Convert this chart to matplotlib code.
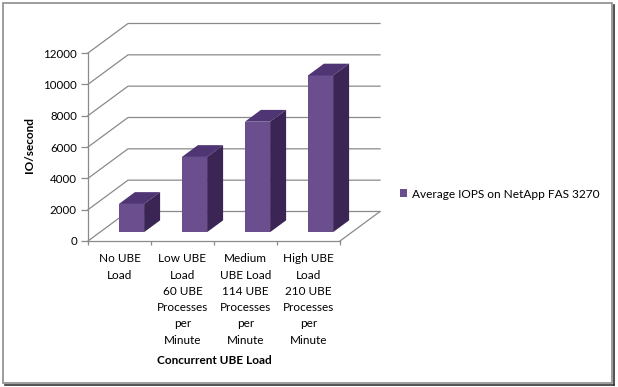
import matplotlib
matplotlib.use('Agg')
import matplotlib.pyplot as plt
from matplotlib.patches import Polygon, Rectangle
from matplotlib.lines import Line2D
import numpy as np

categories = ['No UBE\nLoad',
              'Low UBE\nLoad\n60 UBE\nProcesses\nper\nMinute',
              'Medium\nUBE Load\n114 UBE\nProcesses\nper\nMinute',
              'High UBE\nLoad\n210 UBE\nProcesses\nper\nMinute']
iops = [1800, 4800, 7050, 10000]
y_ticks = [0, 2000, 4000, 6000, 8000, 10000, 12000]
series_name = 'Average IOPS on NetApp FAS 3270'

plt.rcParams['font.family'] = ['Lato', 'DejaVu Sans']

W, H = 618, 387
fig = plt.figure(figsize=(W / 100, H / 100), dpi=100)

# front plane of the 3d box, in pixels
x0, x1, yb, yt = 88, 340, 241, 53
ax = fig.add_axes([x0 / W, 1 - yb / H, (x1 - x0) / W, (yb - yt) / H])
ax.set_xlim(-0.5, 3.5)
ax.set_ylim(0, 12000)

# depth vector (oblique projection) in data units
px_x = (x1 - x0) / 4.0
px_y = (yb - yt) / 12000.0
DX = 40 / px_x
DY = 29.5 / px_y

grid_c = '#8a8a8a'
# side wall + back wall gridlines
for v in y_ticks:
    ax.plot([-0.5, -0.5 + DX, 3.5 + DX], [v, v + DY, v + DY],
            color=grid_c, lw=0.9, clip_on=False, zorder=1)
# floor right edge
ax.plot([3.5, 3.5 + DX], [0, DY], color=grid_c, lw=0.9, clip_on=False, zorder=1)

front_c = '#6a4e8e'
top_c = '#4f3573'
side_c = '#3b2555'
bw = 0.4
d0, d1 = 0.3, 0.7
xs = np.arange(len(iops))
bars = ax.bar(xs + d0 * DX, iops, width=bw, bottom=d0 * DY, color=front_c,
              label=series_name, zorder=3)
dd = d1 - d0
for b in bars:
    xl = b.get_x()
    xr = xl + b.get_width()
    ybot = b.get_y()
    ytop = ybot + b.get_height()
    ax.add_patch(Polygon([(xl, ytop), (xr, ytop), (xr + dd * DX, ytop + dd * DY),
                          (xl + dd * DX, ytop + dd * DY)], closed=True,
                         facecolor=top_c, edgecolor='none', zorder=3, clip_on=False))
    ax.add_patch(Polygon([(xr, ybot), (xr, ytop), (xr + dd * DX, ytop + dd * DY),
                          (xr + dd * DX, ybot + dd * DY)], closed=True,
                         facecolor=side_c, edgecolor='none', zorder=3, clip_on=False))

for s in ['top', 'right']:
    ax.spines[s].set_visible(False)
for s in ['left', 'bottom']:
    ax.spines[s].set_color(grid_c)
    ax.spines[s].set_linewidth(0.9)

ax.set_yticks(y_ticks)
ax.set_yticklabels([str(v) for v in y_ticks])
ax.tick_params(axis='y', length=5, width=0.9, color=grid_c, labelsize=8.3, pad=3)

ax.set_xticks(np.arange(-0.5, 4.0, 1.0))
ax.set_xticklabels([])
ax.set_xticks(xs, minor=True)
ax.set_xticklabels(categories, minor=True, fontsize=8.5, linespacing=1.58, va='top')
ax.tick_params(axis='x', which='major', length=3, width=0.9, color=grid_c)
ax.tick_params(axis='x', which='minor', length=0, pad=9)

ax.set_ylabel('IO/second', fontsize=8.5, fontweight='bold')
ax.yaxis.set_label_coords(-0.21, 0.51)
ax.set_xlabel('Concurrent UBE Load', fontsize=8.5, fontweight='bold', va='center')
ax.xaxis.set_label_coords(0.5, -(361 - yb) / (yb - yt))

fig.legend(handles=[bars], labels=[series_name], loc='center left',
           bbox_to_anchor=(389 / W, 1 - 194 / H), frameon=False, fontsize=8.6,
           handlelength=0.6, handleheight=0.6, handletextpad=0.4)

# chart area border with a small shadow
fig.add_artist(Rectangle((3 / W, 4 / H), 609 / W, 380 / H, transform=fig.transFigure,
                         fill=False, edgecolor='#8c8c8c', lw=1.2))
fig.add_artist(Line2D([614 / W, 614 / W], [2 / H, 382 / H], transform=fig.transFigure,
                      color='#333333', lw=1.2))
fig.add_artist(Line2D([5 / W, 614 / W], [2 / H, 2 / H], transform=fig.transFigure,
                      color='#333333', lw=1.2))

fig.savefig('out.png', dpi=100)
